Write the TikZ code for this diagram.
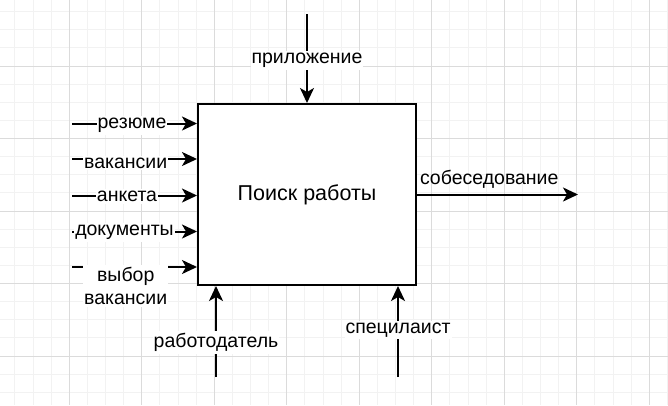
\documentclass[tikz,border=0pt]{standalone}
\usepackage{fontspec}
\setmainfont{Liberation Sans}
\usetikzlibrary{arrows.meta}
\tikzset{%
  every block/.style={
    draw,
    line width=2pt,
    fill=white,
    minimum width=218pt,
    minimum height=181pt,
    inner sep=0pt,
    font=\fontsize{21.5}{24}\selectfont
  },
  flow/.style={
    line width=2pt,
    -{Stealth[length=15pt,width=14pt,inset=4pt]}
  },
  lbl/.style={
    fill=white,
    inner xsep=1pt,
    inner ysep=2pt,
    align=center,
    font=\fontsize{19.5}{23.5}\selectfont
  },
  minor grid/.style={draw=black!5, line width=1pt},
  major grid/.style={draw=black!14, line width=1pt},
}

\begin{document}
\begin{tikzpicture}[x=1pt,y=-1pt]
  \useasboundingbox (0,0) rectangle (668,405);
  % grid
  \foreach \i in {1,...,37}
    \draw[minor grid] ({-3.2+18.125*\i},0) -- ({-3.2+18.125*\i},405);
  \foreach \i in {1,...,23}
    \draw[minor grid] (0,{-6.5+18.125*\i}) -- (668,{-6.5+18.125*\i});
  \foreach \i in {1,...,9}
    \draw[major grid] ({-3.2+72.5*\i},0) -- ({-3.2+72.5*\i},405);
  \foreach \i in {1,...,5}
    \draw[major grid] (0,{-6.5+72.5*\i}) -- (668,{-6.5+72.5*\i});

  \node (p) [every block] at (307,194.5) {Поиск работы};

  \coordinate (t) at (307,14);
  \coordinate (o) at (578,194.5);
  \coordinate (b1) at (216,377);
  \coordinate (b2) at (398,377);
  \coordinate (i1) at (72,123.5);
  \coordinate (i2) at (72,159);
  \coordinate (i3) at (72,195.5);
  \coordinate (i4) at (72,231.5);
  \coordinate (i5) at (72,267);

  \draw [flow] (t)--(t |- p.north) node [lbl,pos=0.5,yshift=-2pt] {приложение};
  \draw [flow] (p.east)--(o)
    node [pos=0,anchor=south west,inner sep=1pt,xshift=1pt,yshift=4pt,
          font=\fontsize{19.5}{23.5}\selectfont] {собеседование};
  \draw [flow] (b1)--(b1 |- p.south) node [lbl,pos=0.4,yshift=-2pt] {работодатель};
  \draw [flow] (b2)--(b2 |- p.south) node [lbl,pos=0.54,yshift=-2pt] {специлаист};

  \draw [flow] (i1)--(i1 -| p.west) node [lbl,pos=0.48,yshift=-2pt] {резюме};
  \draw [flow] (i2)--(i2 -| p.west) node [lbl,pos=0.43,yshift=-4pt] {вакансии};
  \draw [flow] (i3)--(i3 -| p.west) node [lbl,pos=0.44,yshift=-1pt] {анкета};
  \draw [flow] (i4)--(i4 -| p.west) node [lbl,pos=0.42,yshift=-1pt] {документы};
  \draw [flow] (i5)--(i5 -| p.west) node [lbl,pos=0.43,yshift=-19pt] {выбор\\вакансии};
\end{tikzpicture}
\end{document}
